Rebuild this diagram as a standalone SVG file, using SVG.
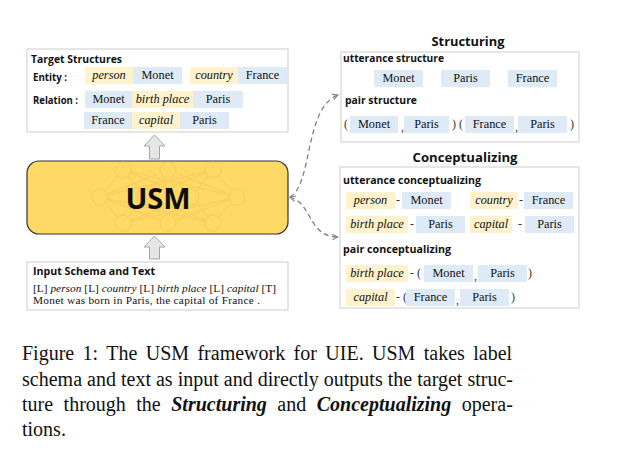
<svg xmlns="http://www.w3.org/2000/svg" width="617" height="476" viewBox="0 0 617 476">
<defs>
<style>
.panel{fill:#fff;stroke:#d9d9d9;stroke-width:1.3}
.b{fill:#deebf7}
.y{fill:#fff2cc}
.hd{font-family:"Open Sans","DejaVu Sans",sans-serif;font-weight:700;font-size:10.5px;fill:#111}
.tt{font-family:"Open Sans","DejaVu Sans",sans-serif;font-weight:700;font-size:13px;fill:#111}
.s{font-family:"Liberation Serif","Times New Roman",serif;font-size:12.3px;fill:#111;text-anchor:middle}
.i{font-style:italic}
.p{font-family:"Liberation Serif","Times New Roman",serif;font-size:12px;fill:#333}
.in{font-family:"Liberation Serif","Times New Roman",serif;font-size:11.3px;fill:#111}
.cap{font-family:"Liberation Serif","Times New Roman",serif;font-size:20px;fill:#111}
.net{fill:none;stroke:#eec55a;stroke-width:1;opacity:0.6}
.dash{fill:none;stroke:#808080;stroke-width:1.3;stroke-dasharray:5 3.5}
.up{fill:#e6e6e6;stroke:#a6a6a6;stroke-width:1}
</style>
<marker id="chev" viewBox="0 0 10 10" refX="9" refY="5" markerWidth="7" markerHeight="7" orient="auto-start-reverse" markerUnits="userSpaceOnUse">
<path d="M1 1 L9 5 L1 9" fill="none" stroke="#808080" stroke-width="1.5"/>
</marker>
</defs>

<g id="target-structures">
<rect class="panel" x="27" y="49" width="261" height="83"/>
<text class="hd" x="31" y="63" textLength="91" lengthAdjust="spacingAndGlyphs">Target Structures</text>
<text class="hd" x="33" y="81" textLength="34" lengthAdjust="spacingAndGlyphs">Entity :</text>
<text class="hd" x="33" y="104" textLength="45" lengthAdjust="spacingAndGlyphs">Relation :</text>
<rect class="y" x="85" y="67" width="48" height="17"/><text class="s i" x="109" y="79">person</text>
<rect class="b" x="133" y="67" width="49" height="17"/><text class="s" x="157.5" y="79">Monet</text>
<rect class="y" x="190" y="67" width="48" height="17"/><text class="s i" x="214" y="79">country</text>
<rect class="b" x="238" y="67" width="49" height="17"/><text class="s" x="262.5" y="79">France</text>
<rect class="b" x="85" y="91" width="47" height="17"/><text class="s" x="108.5" y="103">Monet</text>
<rect class="y" x="132" y="91" width="61" height="17"/><text class="s i" x="162.5" y="103">birth place</text>
<rect class="b" x="193" y="91" width="50" height="17"/><text class="s" x="218" y="103">Paris</text>
<rect class="b" x="84" y="112" width="48" height="17"/><text class="s" x="108" y="124">France</text>
<rect class="y" x="132" y="112" width="48" height="17"/><text class="s i" x="156" y="124">capital</text>
<rect class="b" x="180" y="112" width="49" height="17"/><text class="s" x="204.5" y="124">Paris</text>
</g>

<g id="usm">
<rect x="27" y="161" width="261" height="73" rx="12" fill="#ffd966" stroke="#333" stroke-width="1.2"/>
<g class="net">
<path d="M123 170 L100 197 M123 170 L145 197 M123 170 L191 197 M123 170 L237 197 M168 170 L100 197 M168 170 L145 197 M168 170 L191 197 M168 170 L237 197 M213 170 L100 197 M213 170 L145 197 M213 170 L191 197 M213 170 L237 197 M123 223 L100 197 M123 223 L145 197 M123 223 L191 197 M123 223 L237 197 M168 223 L100 197 M168 223 L145 197 M168 223 L191 197 M168 223 L237 197 M213 223 L100 197 M213 223 L145 197 M213 223 L191 197 M213 223 L237 197"/>
<circle cx="123" cy="170" r="8" fill="#ffd966"/><circle cx="168" cy="170" r="8" fill="#ffd966"/><circle cx="213" cy="170" r="8" fill="#ffd966"/>
<circle cx="100" cy="197" r="8" fill="#ffd966"/><circle cx="145" cy="197" r="8" fill="#ffd966"/><circle cx="191" cy="197" r="8" fill="#ffd966"/><circle cx="237" cy="197" r="8" fill="#ffd966"/>
<circle cx="123" cy="223" r="8" fill="#ffd966"/><circle cx="168" cy="223" r="8" fill="#ffd966"/><circle cx="213" cy="223" r="8" fill="#ffd966"/>
</g>
<text x="158" y="209" text-anchor="middle" font-family="'Open Sans','DejaVu Sans',sans-serif" font-weight="700" font-size="29" fill="#0d0d0d">USM</text>
</g>

<g id="input-schema">
<rect class="panel" x="27" y="262" width="261" height="48"/>
<text class="hd" x="33" y="275" textLength="122" lengthAdjust="spacingAndGlyphs">Input Schema and Text</text>
<text class="in" x="33" y="292" textLength="243" lengthAdjust="spacing">[L] <tspan font-style="italic">person</tspan> [L] <tspan font-style="italic">country</tspan> [L] <tspan font-style="italic">birth place</tspan>  [L] <tspan font-style="italic">capital</tspan> [T]</text>
<text class="in" x="33" y="304" textLength="227" lengthAdjust="spacing">Monet was born in Paris, the capital of  France .</text>
</g>

<g id="structuring">
<text class="tt" x="468" y="46" text-anchor="middle" textLength="73" lengthAdjust="spacingAndGlyphs">Structuring</text>
<rect class="panel" x="341" y="52" width="238" height="90"/>
<text class="hd" x="343" y="62" textLength="101" lengthAdjust="spacingAndGlyphs">utterance structure</text>
<rect class="b" x="374" y="70" width="49" height="17"/><text class="s" x="398.5" y="82">Monet</text>
<rect class="b" x="441" y="70" width="49" height="17"/><text class="s" x="465.5" y="82">Paris</text>
<rect class="b" x="508" y="70" width="49" height="17"/><text class="s" x="532.5" y="82">France</text>
<text class="hd" x="345" y="104" textLength="72" lengthAdjust="spacingAndGlyphs">pair structure</text>
<text class="p" x="344" y="128">(</text>
<rect class="b" x="350" y="116" width="48" height="17"/><text class="s" x="374" y="128">Monet</text>
<text class="p" x="401" y="131">,</text>
<rect class="b" x="404" y="116" width="45" height="17"/><text class="s" x="426.5" y="128">Paris</text>
<text class="p" x="452" y="128">) (</text>
<rect class="b" x="465" y="116" width="49" height="17"/><text class="s" x="489.5" y="128">France</text>
<text class="p" x="515" y="131">,</text>
<rect class="b" x="518" y="116" width="49" height="17"/><text class="s" x="542.5" y="128">Paris</text>
<text class="p" x="570" y="128">)</text>
</g>

<g id="conceptualizing">
<text class="tt" x="465" y="162" text-anchor="middle" textLength="105" lengthAdjust="spacingAndGlyphs">Conceptualizing</text>
<rect class="panel" x="340" y="167" width="239" height="141"/>
<text class="hd" x="343" y="184" textLength="138" lengthAdjust="spacingAndGlyphs">utterance conceptualizing</text>
<rect class="y" x="346" y="192" width="49" height="17"/><text class="s i" x="370.5" y="204">person</text>
<text class="p" x="396" y="204">-</text>
<rect class="b" x="402" y="192" width="49" height="17"/><text class="s" x="426.5" y="204">Monet</text>
<rect class="y" x="470" y="192" width="48" height="17"/><text class="s i" x="494" y="204">country</text>
<text class="p" x="519" y="204">-</text>
<rect class="b" x="524" y="192" width="49" height="17"/><text class="s" x="548.5" y="204">France</text>
<rect class="y" x="346" y="216" width="62" height="17"/><text class="s i" x="377" y="228">birth place</text>
<text class="p" x="410" y="228">-</text>
<rect class="b" x="416" y="216" width="49" height="17"/><text class="s" x="440.5" y="228">Paris</text>
<rect class="y" x="470" y="216" width="42" height="17"/><text class="s i" x="491" y="228">capital</text>
<text class="p" x="518" y="228">-</text>
<rect class="b" x="525" y="216" width="49" height="17"/><text class="s" x="549.5" y="228">Paris</text>
<text class="hd" x="343" y="253" textLength="108" lengthAdjust="spacingAndGlyphs">pair conceptualizing</text>
<rect class="y" x="346" y="265" width="62" height="17"/><text class="s i" x="377" y="277">birth place</text>
<text class="p" x="410" y="277">- (</text>
<rect class="b" x="424" y="265" width="49" height="17"/><text class="s" x="448.5" y="277">Monet</text>
<text class="p" x="474" y="280">,</text>
<rect class="b" x="478" y="265" width="49" height="17"/><text class="s" x="502.5" y="277">Paris</text>
<text class="p" x="528" y="277">)</text>
<rect class="y" x="346" y="289" width="49" height="17"/><text class="s i" x="370.5" y="301">capital</text>
<text class="p" x="396" y="301">- (</text>
<rect class="b" x="406" y="289" width="49" height="17"/><text class="s" x="430.5" y="301">France</text>
<text class="p" x="456" y="304">,</text>
<rect class="b" x="460" y="289" width="49" height="17"/><text class="s" x="484.5" y="301">Paris</text>
<text class="p" x="511" y="301">)</text>
</g>

<g id="connectors">
<polygon class="up" points="154.5,135 165,146 159.5,146 159.5,159 149.5,159 149.5,146 144,146"/>
<polygon class="up" points="154.5,236 165,247 159.5,247 159.5,259 149.5,259 149.5,247 144,247"/>
<path class="dash" d="M290 197 C313 184, 304 108, 338 95" marker-end="url(#chev)"/>
<path class="dash" d="M290 197 C313 204, 308 237, 338 237" marker-start="url(#chev)" marker-end="url(#chev)"/>
</g>

<g id="caption">
<text class="cap" x="22" y="360" word-spacing="3.4">Figure 1: The USM framework for UIE. USM takes label</text>
<text class="cap" x="22" y="386" textLength="491" lengthAdjust="spacing">schema and text as input and directly outputs the target struc-</text>
<text class="cap" x="22" y="411" word-spacing="5.5">ture through the <tspan font-weight="700" font-style="italic">Structuring</tspan> and <tspan font-weight="700" font-style="italic">Conceptualizing</tspan> opera-</text>
<text class="cap" x="22" y="436">tions.</text>
</g>
</svg>
